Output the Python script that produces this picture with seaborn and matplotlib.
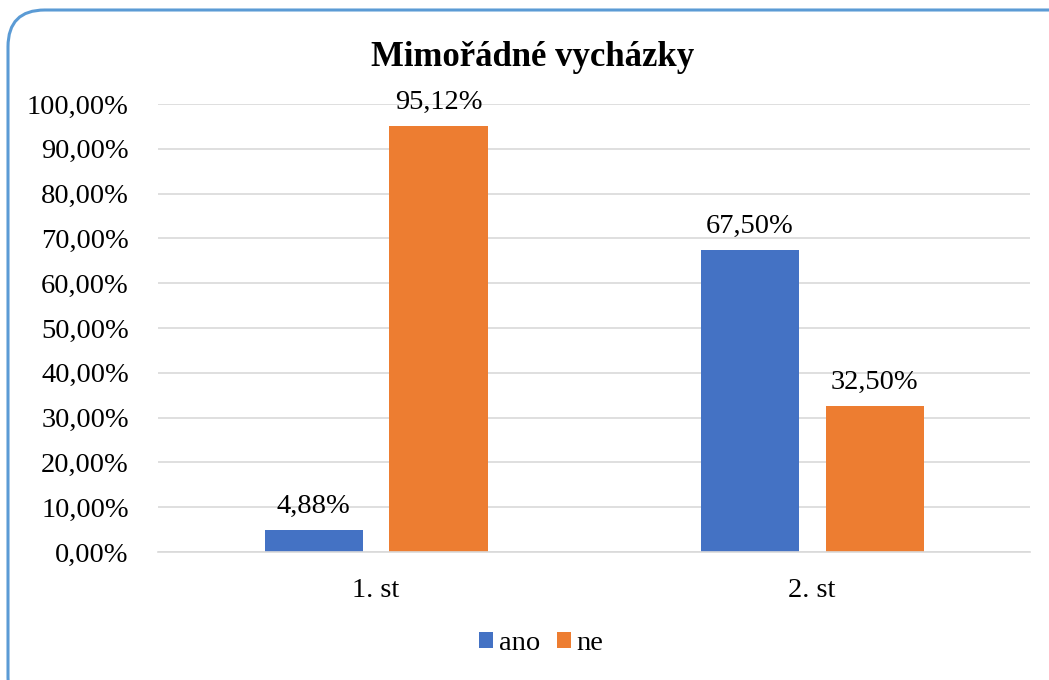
import matplotlib
matplotlib.use("Agg")
import matplotlib.pyplot as plt
import seaborn as sns
import pandas as pd
from matplotlib.patches import FancyBboxPatch

# data
categories = ["1. st", "2. st"]
series = ["ano", "ne"]
ano_values = [0.0488, 0.6750]
ne_values = [0.9512, 0.3250]
y_ticks = [i / 10 for i in range(11)]

colors = {"ano": "#4472C4", "ne": "#ED7D31"}

df = pd.DataFrame({
    "stupen": categories * 2,
    "odpoved": ["ano"] * len(categories) + ["ne"] * len(categories),
    "podil": ano_values + ne_values,
})

sns.set_theme(style="white")
plt.rcParams['font.family'] = ['Liberation Serif', 'DejaVu Serif']
plt.rcParams['text.color'] = 'black'
plt.rcParams['xtick.color'] = 'black'
plt.rcParams['ytick.color'] = 'black'


def pct(v):
    return f"{v * 100:.2f}".replace(".", ",") + "%"


fig = plt.figure(figsize=(10.49, 6.8), dpi=100)
ax = fig.add_axes([0.1506, 0.1882, 0.8314, 0.6588])

sns.barplot(data=df, x="stupen", y="podil", hue="odpoved", order=categories,
            hue_order=series, palette=colors, width=0.573, gap=0.215,
            saturation=1, edgecolor="none", linewidth=0, ax=ax, legend=True)

for cont in ax.containers:
    ax.bar_label(cont, labels=[pct(b.get_height()) for b in cont],
                 padding=8, fontsize=20.5, color="black")

ax.set_ylim(0, 1)
ax.set_yticks(y_ticks)
ax.set_yticklabels([pct(t) for t in y_ticks], fontsize=20.5)
ax.tick_params(axis="y", length=0, pad=21)
ax.tick_params(axis="x", length=0, pad=19, labelsize=20.5)
ax.grid(axis="y", color="#D9D9D9", linewidth=1.2)
ax.set_axisbelow(True)
for s in ["left", "right", "top"]:
    ax.spines[s].set_visible(False)
ax.spines["bottom"].set_color("#D9D9D9")
ax.spines["bottom"].set_linewidth(1.2)
ax.set_xlabel("")
ax.set_ylabel("")

fig.text(0.508, 0.915, "Mimořádné vycházky", ha="center", va="center",
         fontsize=25, fontweight="bold", color="black")

leg = ax.legend(loc="center", bbox_to_anchor=(0.516, 0.054), bbox_transform=fig.transFigure,
                ncol=2, frameon=False, prop={"family": ["Liberation Serif"], "size": 20.5},
                handlelength=0.48, handleheight=0.48,
                handletextpad=0.2, columnspacing=0.6)

# chart frame
frame = FancyBboxPatch((8 / 1049, -0.05), 1.04, 1 - 10 / 680 + 0.05,
                       boxstyle="round,pad=0,rounding_size=0.035",
                       transform=fig.transFigure, fill=False,
                       edgecolor="#5B9BD5", linewidth=2.2, mutation_aspect=1049 / 680)
fig.patches.append(frame)

fig.savefig("out.png", dpi=100)
